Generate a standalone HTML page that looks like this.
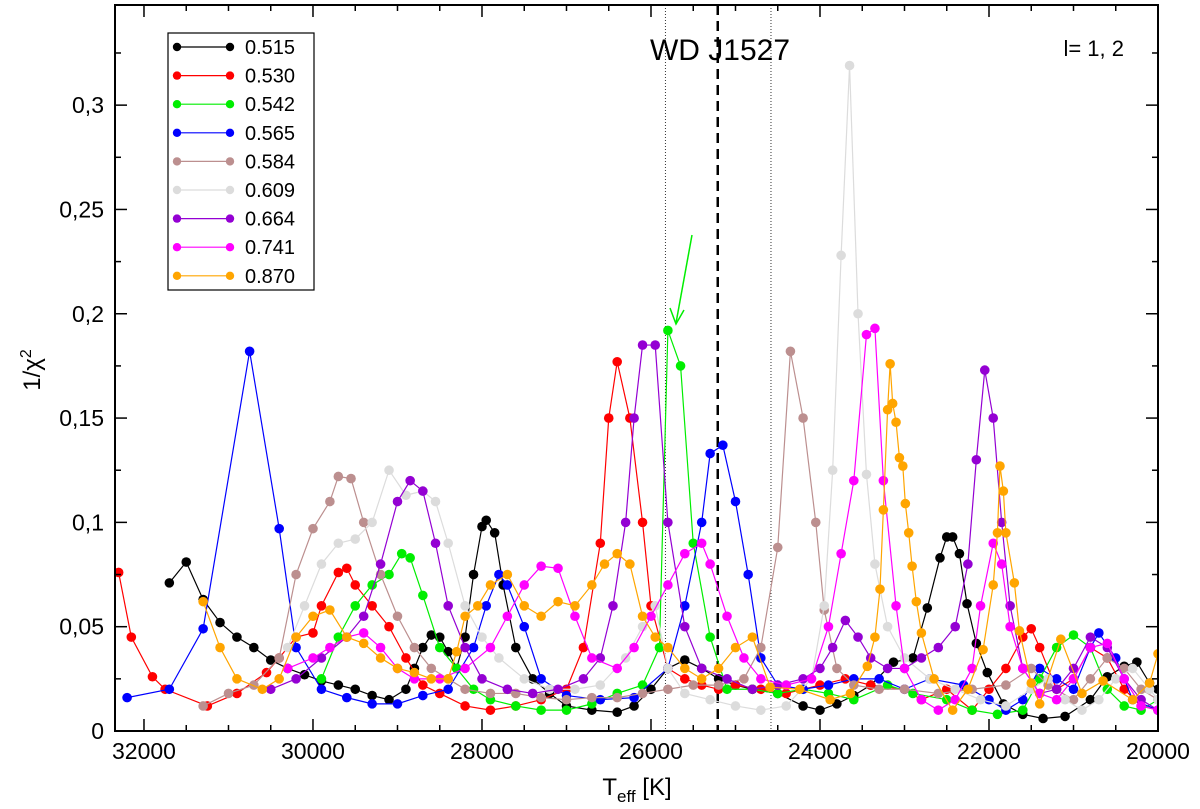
<!DOCTYPE html>
<html><head><meta charset="utf-8"><style>
body{margin:0;background:#fff}
svg{display:block;font-family:"Liberation Sans",sans-serif}
</style></head><body>
<svg id="chart" width="1200" height="809" viewBox="0 0 1200 809"></svg>
<script>
const tickX=[32000,30000,28000,26000,24000,22000,20000];
const tickXLabels=["32000","30000","28000","26000","24000","22000","20000"];
const tickY=[0,0.05,0.1,0.15,0.2,0.25,0.3];
const tickYLabels=["0","0,05","0,1","0,15","0,2","0,25","0,3"];
const seriesNames=["0.515","0.530","0.542","0.565","0.584","0.609","0.664","0.741","0.870"];
const seriesColors=["#000000","#ff0000","#00ee00","#0000ff","#bc8f8f","#dcdcdc","#9400d3","#ff00ff","#ffa500"];
const s515=[[31700,.071],[31500,.081],[31300,.063],[31100,.052],[30900,.045],[30700,.040],[30500,.034],[30300,.030],[30100,.027],[29900,.024],[29700,.022],[29500,.020],[29300,.017],[29100,.015],[28900,.020],[28800,.030],[28700,.040],[28600,.046],[28500,.045],[28400,.038],[28300,.030],[28200,.045],[28100,.075],[28000,.098],[27950,.101],[27850,.095],[27750,.070],[27600,.040],[27400,.025],[27200,.018],[27000,.012],[26700,.010],[26400,.009],[26200,.012],[26000,.020],[25800,.030],[25600,.034],[25400,.030],[25200,.025],[25000,.022],[24800,.020],[24500,.018],[24200,.012],[24000,.010],[23800,.013],[23600,.017],[23400,.022],[23130,.033],[22900,.035],[22730,.059],[22580,.083],[22500,.093],[22430,.093],[22350,.085],[22260,.061],[22150,.042],[22020,.028],[21830,.013],[21600,.008],[21360,.006],[21100,.007],[20800,.015],[20600,.026],[20400,.031],[20250,.033],[20100,.023],[20000,.020]];
const s530=[[32300,.076],[32150,.045],[31900,.026],[31750,.020],[31250,.012],[30900,.018],[30550,.028],[30400,.035],[30200,.045],[30000,.047],[29900,.060],[29700,.076],[29600,.078],[29500,.070],[29300,.060],[29100,.050],[28900,.035],[28700,.022],[28500,.018],[28200,.012],[27900,.010],[27600,.012],[27300,.015],[27000,.020],[26800,.040],[26600,.090],[26500,.150],[26400,.177],[26250,.150],[26100,.100],[26000,.060],[25800,.030],[25600,.025],[25400,.022],[25200,.020],[25000,.022],[24700,.020],[24400,.018],[24000,.022],[23700,.025],[23400,.022],[23000,.020],[22800,.015],[22500,.020],[22200,.010],[22000,.020],[21800,.030],[21600,.045],[21500,.049],[21400,.040],[21200,.020],[21000,.025],[20800,.040],[20600,.035],[20400,.020],[20200,.012],[20000,.010]];
const s542=[[29900,.025],[29700,.045],[29500,.060],[29300,.070],[29100,.075],[28950,.085],[28850,.083],[28700,.065],[28500,.040],[28300,.030],[28100,.020],[27900,.015],[27600,.012],[27300,.010],[27000,.010],[26700,.013],[26400,.018],[26100,.022],[25900,.040],[25800,.192],[25650,.175],[25500,.090],[25300,.045],[25100,.020],[24800,.020],[24500,.018],[24200,.020],[23900,.018],[23600,.015],[23200,.022],[22900,.018],[22500,.015],[22200,.010],[21900,.008],[21600,.010],[21400,.025],[21200,.040],[21000,.046],[20800,.040],[20600,.020],[20400,.012],[20200,.010],[20000,.015]];
const s565=[[32200,.016],[31700,.020],[31300,.049],[30750,.182],[30400,.097],[30200,.040],[29900,.020],[29600,.016],[29300,.013],[29000,.013],[28700,.017],[28400,.020],[28100,.040],[27950,.060],[27800,.075],[27700,.070],[27500,.050],[27300,.025],[27000,.017],[26600,.015],[26200,.016],[25800,.030],[25600,.060],[25400,.100],[25300,.133],[25150,.137],[25000,.110],[24850,.075],[24700,.035],[24500,.022],[24200,.020],[23900,.022],[23600,.025],[23300,.025],[23000,.020],[22700,.025],[22300,.022],[22000,.015],[21800,.010],[21600,.015],[21400,.030],[21200,.025],[21000,.020],[20800,.040],[20700,.047],[20500,.035],[20300,.015],[20000,.010]];
const s584=[[31300,.012],[31000,.018],[30700,.022],[30400,.035],[30200,.075],[30000,.097],[29800,.110],[29700,.122],[29550,.121],[29400,.100],[29200,.075],[29000,.055],[28800,.040],[28600,.030],[28400,.025],[28200,.020],[27900,.018],[27600,.018],[27300,.016],[27000,.015],[26700,.016],[26400,.016],[26100,.018],[25800,.020],[25500,.022],[25200,.022],[24900,.025],[24700,.040],[24500,.088],[24350,.182],[24200,.150],[24050,.100],[23950,.058],[23800,.030],[23600,.022],[23300,.020],[23000,.020],[22600,.018],[22200,.020],[21800,.022],[21500,.030],[21300,.022],[21000,.015],[20800,.025],[20600,.035],[20400,.030],[20200,.020],[20000,.015]];
const s609=[[30300,.040],[30100,.060],[29900,.080],[29700,.090],[29500,.092],[29300,.100],[29100,.125],[28900,.113],[28700,.115],[28550,.110],[28400,.090],[28200,.060],[28000,.045],[27800,.035],[27500,.025],[27200,.020],[26900,.020],[26600,.022],[26300,.035],[26100,.050],[25950,.060],[25800,.030],[25600,.018],[25300,.015],[25000,.012],[24700,.010],[24400,.012],[24100,.025],[23950,.060],[23850,.125],[23750,.228],[23650,.319],[23550,.200],[23450,.123],[23350,.080],[23200,.050],[23000,.035],[22700,.025],[22400,.020],[22100,.015],[21800,.012],[21500,.020],[21300,.025],[21100,.015],[20900,.010],[20700,.015],[20500,.025],[20300,.030],[20100,.020],[20000,.015]];
const s664=[[30500,.020],[30200,.025],[29900,.035],[29600,.045],[29400,.055],[29200,.080],[29000,.110],[28850,.120],[28700,.115],[28550,.090],[28400,.060],[28200,.040],[28000,.025],[27700,.020],[27400,.018],[27100,.020],[26800,.025],[26600,.035],[26450,.060],[26300,.100],[26200,.150],[26100,.185],[25950,.185],[25800,.100],[25600,.050],[25400,.030],[25100,.025],[24800,.020],[24500,.022],[24200,.025],[24000,.030],[23850,.040],[23700,.053],[23550,.045],[23400,.035],[23200,.030],[23000,.030],[22800,.035],[22600,.040],[22400,.050],[22250,.080],[22150,.130],[22050,.173],[21950,.150],[21850,.100],[21750,.060],[21600,.030],[21400,.018],[21200,.020],[21000,.030],[20800,.045],[20600,.040],[20400,.025],[20200,.015],[20000,.010]];
const s741=[[30300,.030],[30000,.035],[29800,.040],[29600,.045],[29400,.047],[29200,.040],[29000,.030],[28800,.025],[28500,.025],[28200,.030],[27900,.040],[27700,.055],[27500,.070],[27300,.079],[27100,.078],[26900,.055],[26700,.035],[26400,.030],[26200,.040],[26000,.055],[25800,.070],[25600,.085],[25400,.090],[25300,.080],[25100,.055],[24900,.035],[24700,.025],[24400,.022],[24100,.025],[23900,.050],[23750,.085],[23600,.120],[23450,.190],[23350,.193],[23250,.120],[23100,.060],[23000,.030],[22800,.015],[22600,.010],[22400,.015],[22200,.030],[22100,.060],[21950,.090],[21850,.080],[21750,.050],[21600,.030],[21400,.018],[21200,.015],[21000,.025],[20800,.040],[20600,.042],[20400,.025],[20200,.012],[20000,.010]];
const s870=[[31300,.062],[31100,.040],[30900,.025],[30600,.020],[30400,.025],[30200,.045],[30000,.055],[29800,.058],[29600,.045],[29400,.042],[29200,.035],[29000,.030],[28800,.028],[28600,.025],[28400,.025],[28300,.038],[28200,.055],[28050,.060],[27900,.070],[27700,.075],[27500,.060],[27300,.055],[27100,.062],[26900,.060],[26700,.070],[26550,.080],[26400,.085],[26250,.080],[26100,.055],[25950,.045],[25800,.040],[25600,.030],[25400,.025],[25200,.030],[25000,.040],[24800,.045],[24590,.021],[24240,.020],[23880,.015],[23640,.018],[23440,.031],[23350,.045],[23290,.068],[23250,.106],[23200,.154],[23170,.176],[23140,.157],[23100,.148],[23060,.131],[23020,.127],[22990,.109],[22950,.095],[22910,.079],[22860,.062],[22800,.047],[22650,.025],[22430,.010],[22250,.020],[22070,.039],[21950,.070],[21900,.095],[21870,.127],[21830,.115],[21800,.095],[21700,.071],[21640,.048],[21500,.023],[21400,.013],[21150,.044],[20900,.018],[20650,.024],[20300,.015],[20100,.023],[20000,.037]];
const allSeries=[s515,s530,s542,s565,s584,s609,s664,s741,s870];
const refLines=[25830,25210,24580];

const L=115,R=1158,T=5,B=731,xMin=32343,xMax=20000,yMin=0,yMax=0.348;
const X=v=>L+(xMin-v)/(xMin-xMax)*(R-L);
const Y=v=>B-(v-yMin)/(yMax-yMin)*(B-T);
const NS="http://www.w3.org/2000/svg";
const svg=document.getElementById('chart');
function mk(tag,attrs,parent){const e=document.createElementNS(NS,tag);for(const k in attrs)e.setAttribute(k,attrs[k]);(parent||svg).appendChild(e);return e;}

const plot=mk('g',{});


const clip=mk('clipPath',{id:'cp'});mk('rect',{x:L,y:T,width:R-L,height:B-T},clip);
refLines.forEach((t,i)=>{const l=mk('line',{x1:X(t),x2:X(t),y1:T,y2:B,stroke:'#000','stroke-width':i==1?2.5:0.8,'stroke-dasharray':i==1?'10,6':'1,2'},plot);

});
allSeries.forEach((s,i)=>{const g=mk('g',{'clip-path':'url(#cp)'},plot);


mk('polyline',{points:s.map(p=>X(p[0])+','+Y(p[1])).join(' '),fill:'none',stroke:seriesColors[i],'stroke-width':1.2},g);
s.forEach(p=>{const c=mk('circle',{cx:X(p[0]),cy:Y(p[1]),r:4.8,fill:seriesColors[i]},g);

});});
const fr=mk('rect',{x:L,y:T,width:R-L,height:B-T,fill:'none',stroke:'#000','stroke-width':2});


for(let t=32000;t>=20000;t-=500){const maj=t%2000==0,len=maj?12:6;
mk('line',{x1:X(t),x2:X(t),y1:B,y2:B-len,stroke:'#000','stroke-width':1.5});
mk('line',{x1:X(t),x2:X(t),y1:T,y2:T+len,stroke:'#000','stroke-width':1.5});}
tickX.forEach((t,i)=>{const e=mk('text',{x:X(t),y:759,'font-size':23,'text-anchor':'middle'});e.textContent=tickXLabels[i];

});
for(let v=0;v<=0.3401;v+=0.025){const maj=Math.round(v*1000)%50==0,len=maj?12:6;
mk('line',{x1:L,x2:L+len,y1:Y(v),y2:Y(v),stroke:'#000','stroke-width':1.5});
mk('line',{x1:R,x2:R-len,y1:Y(v),y2:Y(v),stroke:'#000','stroke-width':1.5});}
tickY.forEach((v,i)=>{const e=mk('text',{x:104,y:Y(v)+8,'font-size':23,'text-anchor':'end'});e.textContent=tickYLabels[i];

});
const xt=mk('text',{x:637,y:795,'font-size':24,'text-anchor':'middle'});
xt.innerHTML='T<tspan font-size="17" dy="7">eff</tspan><tspan dy="-7"> [K]</tspan>';


const yt=mk('text',{x:0,y:0,'font-size':24,'text-anchor':'middle',transform:'translate(40,370) rotate(-90)'});
yt.innerHTML='1/χ<tspan font-size="16" dy="-9">2</tspan>';


const wd=mk('text',{x:720,y:60,'font-size':30,'text-anchor':'middle'});wd.textContent='WD J1527';


const ll=mk('text',{x:1124,y:56,'font-size':22,'text-anchor':'end'});ll.textContent='l= 1, 2';


const ar=mk('g',{});


mk('line',{x1:692,y1:235,x2:676,y2:323,stroke:'#00ee00','stroke-width':1.5},ar);
mk('polyline',{points:'670,308 676,324 684,310',fill:'none',stroke:'#00ee00','stroke-width':1.5},ar);
const lg=mk('g',{});


mk('rect',{x:168,y:33,width:146,height:257,fill:'#fff',stroke:'#000','stroke-width':1.2},lg);
seriesNames.forEach((n,i)=>{const y=47+i*28.6;const g=mk('g',{},lg);


mk('line',{x1:177,x2:230,y1:y,y2:y,stroke:seriesColors[i],'stroke-width':1.2},g);
mk('circle',{cx:177,cy:y,r:4.2,fill:seriesColors[i]},g);
mk('circle',{cx:230,cy:y,r:4.2,fill:seriesColors[i]},g);
const t=mk('text',{x:245,y:y+7,'font-size':20},g);t.textContent=n;});
</script>
</body></html>
